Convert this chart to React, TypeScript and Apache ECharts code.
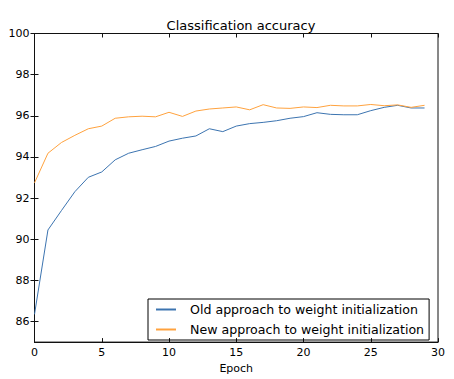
import React, { useEffect, useRef } from "react";
import * as echarts from "echarts";

const epochs = Array.from({ length: 30 }, (_, i) => i);
const oldApproach = [
  86.35, 90.45, 91.39, 92.31, 93.01, 93.27, 93.86, 94.18, 94.35, 94.51,
  94.77, 94.91, 95.02, 95.37, 95.23, 95.5, 95.62, 95.68, 95.76, 95.88,
  95.96, 96.15, 96.07, 96.05, 96.05, 96.25, 96.41, 96.51, 96.38, 96.38,
];
const newApproach = [
  92.74, 94.18, 94.7, 95.05, 95.37, 95.5, 95.88, 95.95, 95.98, 95.95,
  96.17, 95.97, 96.23, 96.33, 96.38, 96.43, 96.29, 96.54, 96.38, 96.36,
  96.43, 96.4, 96.51, 96.48, 96.48, 96.55, 96.49, 96.53, 96.41, 96.51,
];
const yTicks = [86, 88, 90, 92, 94, 96, 98, 100];
const xTicks = [0, 5, 10, 15, 20, 25, 30];
const seriesNames = [
  "Old approach to weight initialization",
  "New approach to weight initialization",
];
const titleText = "Classification accuracy";
const xLabel = "Epoch";

const FONT = "DejaVu Sans";
const AXIS = "#111";

export default function App() {
  const ref = useRef<HTMLDivElement>(null);
  useEffect(() => {
    const chart = echarts.init(ref.current!, null, { renderer: "svg" });
    const yTick = { inside: true, length: 4, lineStyle: { color: AXIS }, customValues: yTicks };
    const xTick = { inside: true, length: 4, lineStyle: { color: AXIS }, customValues: xTicks };
    chart.setOption({
      animation: false,
      backgroundColor: "#fff",
      title: {
        text: titleText,
        left: 236,
        textAlign: "center",
        top: 14,
        textStyle: { fontFamily: FONT, fontSize: 13, fontWeight: "normal", color: "#000" },
      },
      grid: {
        left: 34.5,
        right: 16,
        top: 33.5,
        bottom: 32.5,
        show: true,
        borderColor: AXIS,
        borderWidth: 1,
        backgroundColor: "#fff",
      },
      legend: {
        orient: "vertical",
        left: 148,
        top: 299,
        data: seriesNames,
        borderColor: "#000",
        borderWidth: 1,
        borderRadius: 0,
        padding: [4, 5, 4, 7],
        itemWidth: 20,
        itemHeight: 12,
        itemGap: 7,
        itemStyle: { opacity: 0 },
        textStyle: { fontFamily: FONT, fontSize: 12.6, color: "#000", padding: [0, 0, 0, 9] },
      },
      xAxis: [
        {
          type: "value",
          min: 0,
          max: 30,
          name: xLabel,
          nameLocation: "middle",
          nameGap: 20,
          nameTextStyle: { fontFamily: FONT, fontSize: 11, color: "#000" },
          axisLine: { show: true, lineStyle: { color: AXIS } },
          axisTick: xTick,
          splitLine: { show: false },
          axisLabel: { fontFamily: FONT, fontSize: 11, color: "#000", margin: 5, customValues: xTicks },
        },
        {
          type: "value",
          position: "top",
          min: 0,
          max: 30,
          axisLine: { show: true, lineStyle: { color: AXIS } },
          axisTick: xTick,
          splitLine: { show: false },
          axisLabel: { show: false },
        },
      ],
      yAxis: [
        {
          type: "value",
          min: 85,
          max: 100,
          axisLine: { show: true, lineStyle: { color: AXIS } },
          axisTick: yTick,
          splitLine: { show: false },
          axisLabel: { fontFamily: FONT, fontSize: 11, color: "#000", margin: 5, customValues: yTicks },
        },
        {
          type: "value",
          position: "right",
          min: 85,
          max: 100,
          axisLine: { show: true, lineStyle: { color: AXIS } },
          axisTick: yTick,
          splitLine: { show: false },
          axisLabel: { show: false },
        },
      ],
      series: [
        {
          name: seriesNames[0],
          type: "line",
          data: epochs.map((e, i) => [e, oldApproach[i]]),
          symbol: "none",
          lineStyle: { color: "#3c74b0", width: 1 },
          itemStyle: { color: "#3c74b0" },
        },
        {
          name: seriesNames[1],
          type: "line",
          data: epochs.map((e, i) => [e, newApproach[i]]),
          symbol: "none",
          lineStyle: { color: "#ffa23e", width: 1 },
          itemStyle: { color: "#ffa23e" },
        },
      ],
    });
    return () => chart.dispose();
  }, []);
  return (
    <div
      ref={ref}
      style={{ position: "fixed", left: 0, top: 0, width: 454, height: 379 }}
    />
  );
}
